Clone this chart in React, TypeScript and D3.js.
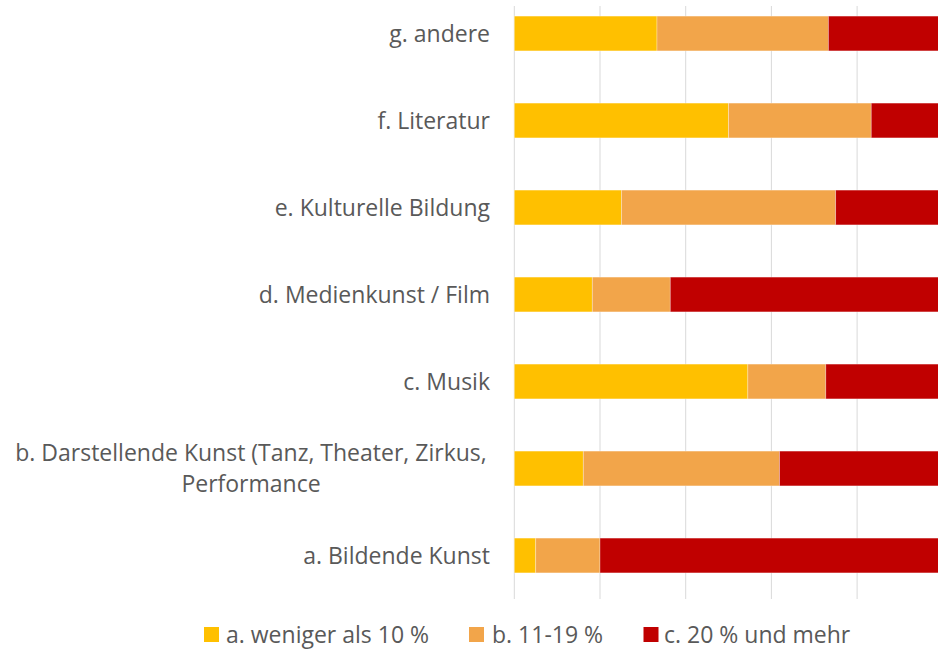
import React from 'react';
import * as d3 from 'd3';

// categories, top to bottom as shown
const categories = [
  'g. andere',
  'f. Literatur',
  'e. Kulturelle Bildung',
  'd. Medienkunst / Film',
  'c. Musik',
  'b. Darstellende Kunst (Tanz, Theater, Zirkus, Performance',
  'a. Bildende Kunst',
];
// label lines (the long one wraps in the original)
const labelLines = [
  ['g. andere'],
  ['f. Literatur'],
  ['e. Kulturelle Bildung'],
  ['d. Medienkunst / Film'],
  ['c. Musik'],
  ['b. Darstellende Kunst (Tanz, Theater, Zirkus,', 'Performance'],
  ['a. Bildende Kunst'],
];

const seriesNames = ['a. weniger als 10 %', 'b. 11-19 %', 'c. 20 % und mehr'];
const lessThan10 = [33.3, 50.0, 25.0, 18.2, 54.5, 16.1, 5.0];
const from11to19 = [40.0, 33.3, 50.0, 18.2, 18.2, 45.8, 15.0];
const moreThan20 = [26.7, 16.7, 25.0, 63.6, 27.3, 38.1, 80.0];
const xTicks = [0, 20, 40, 60, 80, 100];

const colors = ['#FFC000', '#F2A54A', '#C00000'];

const W = 938;
const H = 649;

export default function App() {
  const rows = categories.map((c, i) => ({
    cat: c,
    s0: lessThan10[i],
    s1: from11to19[i],
    s2: moreThan20[i],
  }));
  const stack = d3.stack<any>().keys(['s0', 's1', 's2']);
  const layers = stack(rows);

  const x = d3.scaleLinear().domain([0, 100]).range([514.3, 942.8]);
  const y = d3
    .scaleBand()
    .domain(categories)
    .range([-10, 599])
    .paddingInner(0.6)
    .paddingOuter(0.3);

  const font = '"Open Sans", sans-serif';
  const textColor = '#595959';
  const labelX = 490;

  // legend layout
  const legendItems = [
    { box: 204, text: 226 },
    { box: 469, text: 492 },
    { box: 643.5, text: 664 },
  ];

  return (
    <svg
      width={W}
      height={H}
      style={{ position: 'absolute', left: 0, top: 0, background: '#fff' }}
    >
      {/* gridlines */}
      {xTicks.map((t) => (
        <line
          key={t}
          x1={x(t)}
          x2={x(t)}
          y1={6}
          y2={599}
          stroke="#D9D9D9"
          strokeWidth={1}
        />
      ))}

      {/* stacked bars */}
      {layers.map((layer, li) => (
        <g key={li} fill={colors[li]}>
          {layer.map((d, i) => (
            <rect
              key={i}
              x={x(d[0])}
              y={y(d.data.cat)}
              width={x(d[1]) - x(d[0])}
              height={y.bandwidth()}
              stroke="#ffffff"
              strokeOpacity={0.4}
              strokeWidth={0.75}
            />
          ))}
        </g>
      ))}

      {/* category labels */}
      {categories.map((c, i) => {
        const cy = (y(c) as number) + y.bandwidth() / 2;
        const lines = labelLines[i];
        if (lines.length === 1) {
          return (
            <text
              key={c}
              x={labelX}
              y={cy}
              dy="0.36em"
              textAnchor="end"
              fontFamily={font}
              fontSize={23}
              fill={textColor}
            >
              {lines[0]}
            </text>
          );
        }
        return (
          <text
            key={c}
            x={251}
            y={cy}
            textAnchor="middle"
            fontFamily={font}
            fontSize={23}
            fill={textColor}
          >
            <tspan x={251} dy="-0.31em">
              {lines[0]}
            </tspan>
            <tspan x={251} dy="1.35em">
              {lines[1]}
            </tspan>
          </text>
        );
      })}

      {/* legend */}
      {seriesNames.map((s, i) => (
        <g key={s}>
          <rect
            x={legendItems[i].box}
            y={627}
            width={15}
            height={15}
            fill={colors[i]}
          />
          <text
            x={legendItems[i].text}
            y={634.5}
            dy="0.36em"
            fontFamily={font}
            fontSize={23}
            fill={textColor}
          >
            {s}
          </text>
        </g>
      ))}
    </svg>
  );
}
